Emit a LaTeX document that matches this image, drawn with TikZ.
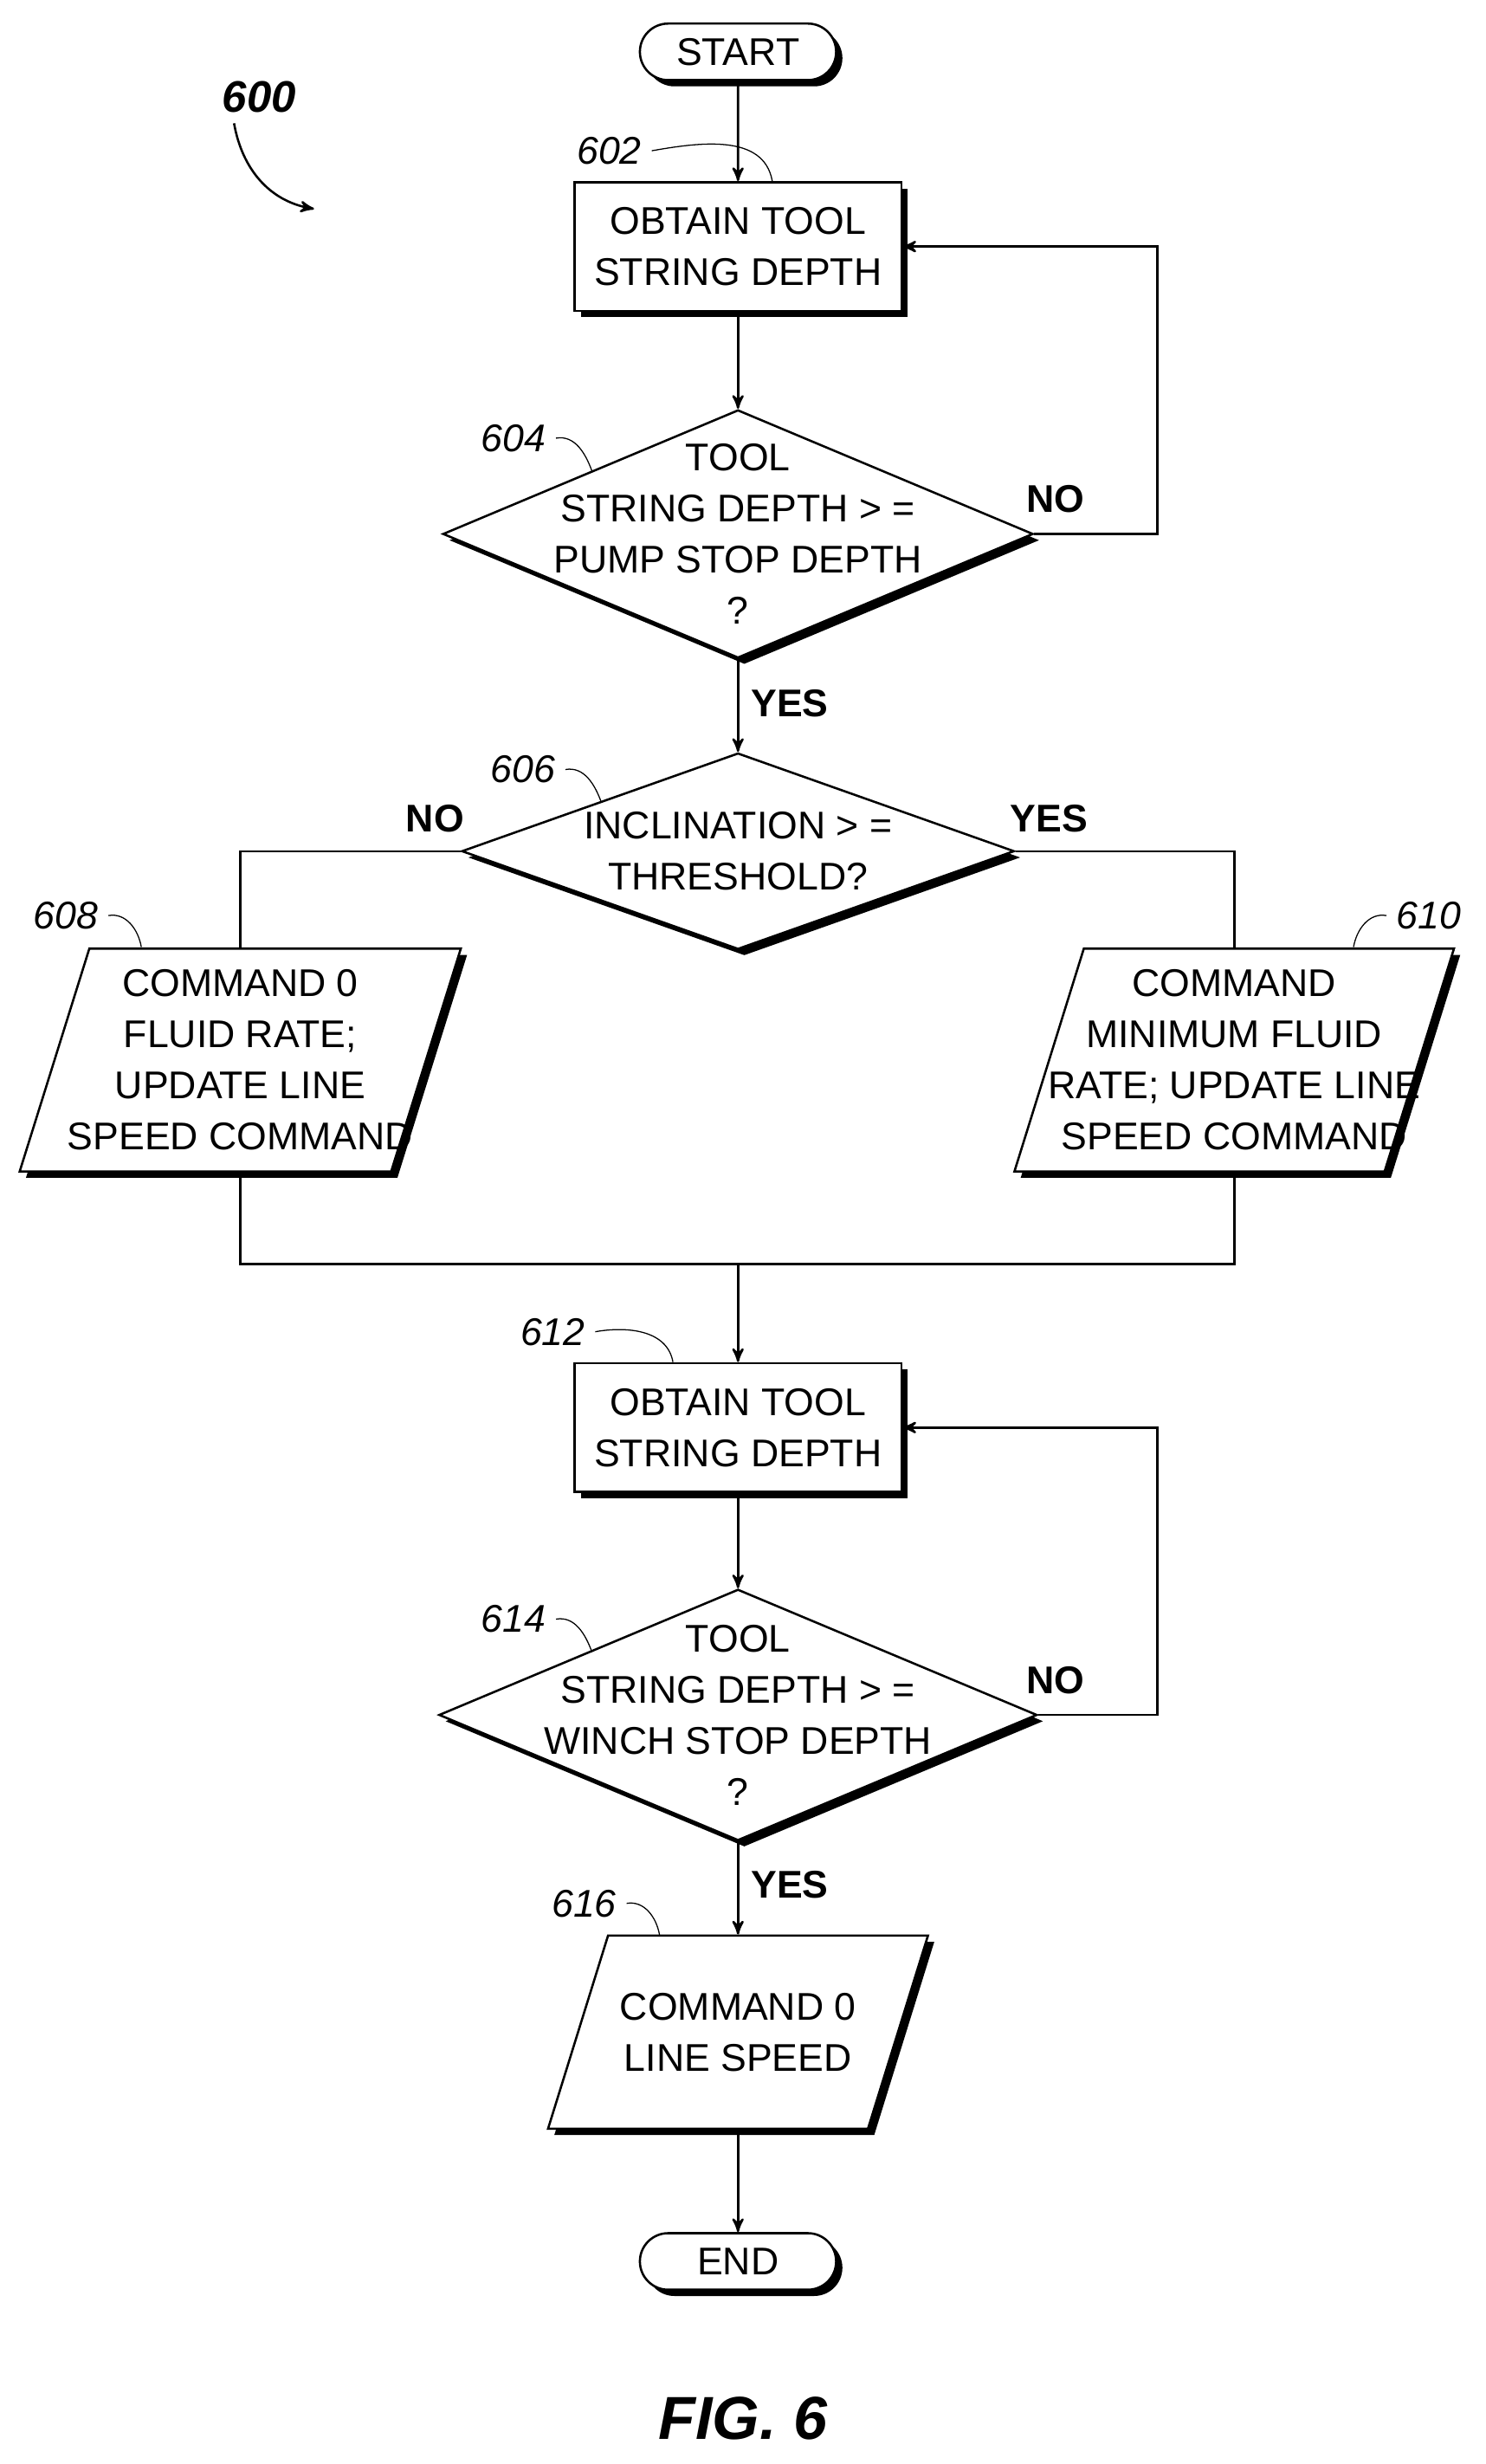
\documentclass[tikz,border=0pt]{standalone}
\usepackage{fontspec}
\setmainfont{Liberation Sans}
\usetikzlibrary{arrows,calc,positioning,shapes,shadows}
\tikzset{
flow/.style={>=stealth',thick,x=0.02cm,y=-0.02cm,
    font=\fontsize{14}{18.5}\selectfont},
shade/.style={draw,thick,fill=white,drop shadow={shadow xshift=0.08cm,
    shadow yshift=-0.08cm,fill=black,opacity=1}},
terminal/.style={shade,rounded rectangle,minimum width=2.5cm,minimum height=0.72cm,inner sep=0pt},
process/.style={shade,rectangle,minimum width=4.16cm,minimum height=1.64cm,align=center},
decision/.style={shade,diamond,inner sep=0pt},
io/.style={shade,trapezium,trapezium left angle=77,trapezium right angle=103,
    trapezium stretches=true,inner sep=2pt},
ref/.style={font=\fontsize{14}{16}\selectfont\itshape},
answer/.style={font=\fontsize{14}{16}\selectfont\bfseries},
}

\begin{document}
\begin{tikzpicture}[flow]
    \useasboundingbox (0,0) rectangle (946,1569);

    \node[terminal] (start) at (470,33) {START};
    \node[process] (b602) at (470,157) {OBTAIN TOOL\\STRING DEPTH};
    \node[decision,minimum width=7.52cm,minimum height=3.16cm] (d604) at (470,340) {};
    \node[align=center] at (d604) {TOOL\\STRING DEPTH > =\\PUMP STOP DEPTH\\?};
    \node[decision,minimum width=7.04cm,minimum height=2.5cm] (d606) at (470,542) {};
    \node[align=center] at (d606) {INCLINATION > =\\THRESHOLD?};
    \node[io,minimum width=5.62cm,minimum height=2.84cm] (p608) at (153,675) {};
    \node[align=center] at (p608) {COMMAND 0\\FLUID RATE;\\UPDATE LINE\\SPEED COMMAND};
    \node[io,minimum width=5.6cm,minimum height=2.84cm] (p610) at (786,675) {};
    \node[align=center] at (p610) {COMMAND\\MINIMUM FLUID\\RATE; UPDATE LINE\\SPEED COMMAND};
    \node[process] (b612) at (470,909) {OBTAIN TOOL\\STRING DEPTH};
    \node[decision,minimum width=7.62cm,minimum height=3.2cm] (d614) at (470,1092) {};
    \node[align=center] at (d614) {TOOL\\STRING DEPTH > =\\WINCH STOP DEPTH\\?};
    \node[io,minimum width=4.84cm,minimum height=2.46cm] (p616) at (470,1294) {};
    \node[align=center] at (p616) {COMMAND 0\\LINE SPEED};
    \node[terminal] (end) at (470,1440) {END};

    % reference numbers
    \node[ref,font=\fontsize{16}{18}\selectfont\bfseries\itshape] (l600) at (165,62) {600};
    \draw[->,thick] ([xshift=8]l600.south west) to[out=-80,in=170] (200,133);
    \node[ref] (l602) at (388,96) {602};
    \node[ref] (l604) at (327,279) {604};
    \node[ref] (l606) at (333,490) {606};
    \node[ref] (l608) at (42,583) {608};
    \node[ref] (l610) at (910,583) {610};
    \node[ref] (l612) at (352,848) {612};
    \node[ref] (l614) at (327,1031) {614};
    \node[ref] (l616) at (372,1212) {616};
    \draw[thin] (l602.east) to[out=10,in=100] ([xshift=72]b602.north west);
    \draw[thin] (l604.east) to[out=10,in=110] (377,300);
    \draw[thin] (l606.east) to[out=10,in=110] (383,511);
    \draw[thin] (l608.east) to[out=10,in=100] (90,603);
    \draw[thin] (l610.west) to[out=170,in=80] (862,603);
    \draw[thin] (l612.east) to[out=10,in=100] ([xshift=36]b612.north west);
    \draw[thin] (l614.east) to[out=10,in=110] (377,1052);
    \draw[thin] (l616.east) to[out=10,in=100] (420,1232);

    % connectors
    \draw[->] (start) -- (b602);
    \draw[->] (b602) -- (d604);
    \draw[->] (d604.east) -- (737,340) |- (b602.east);
    \draw[->] (d604.south) -- (d606.north);
    \draw (d606.west) -| (p608.north);
    \draw (d606.east) -| (p610.north);
    \draw (p608.south) |- (470,805) -| (p610.south);
    \draw[->] (470,805) -- (b612.north);
    \draw[->] (b612) -- (d614);
    \draw[->] (d614.east) -- (737,1092) |- (b612.east);
    \draw[->] (d614.south) -- (p616.north);
    \draw[->] (p616.south) -- (end.north);

    \node[answer] at (672,318) {NO};
    \node[answer] at (503,448) {YES};
    \node[answer] at (277,521) {NO};
    \node[answer] at (668,521) {YES};
    \node[answer] at (672,1070) {NO};
    \node[answer] at (503,1200) {YES};

    \node[font=\fontsize{22}{24}\selectfont\bfseries\itshape] (fig) at (473,1540) {FIG. 6};
\end{tikzpicture}
\end{document}
